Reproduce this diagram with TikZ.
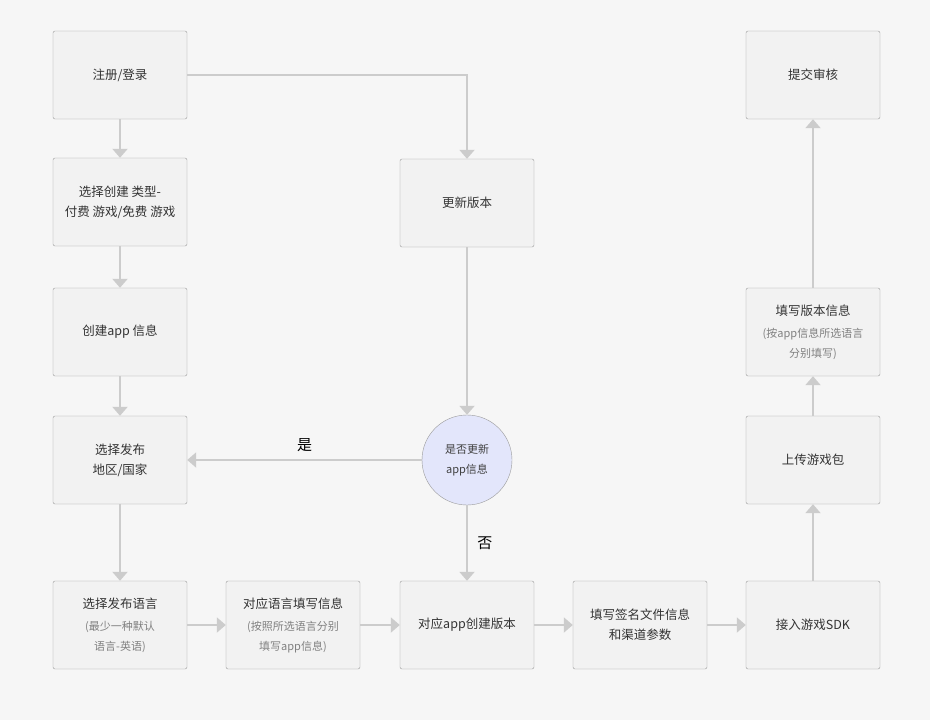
\documentclass[tikz,border=0pt]{standalone}
\usepackage{fontspec}
\setmainfont{Noto Sans CJK SC}
\usetikzlibrary{arrows.meta,positioning}
\definecolor{bgcol}{HTML}{F6F6F6}
\definecolor{boxcol}{HTML}{F2F2F2}
\definecolor{edgecol}{HTML}{9A9A9A}
\definecolor{linecol}{HTML}{CCCCCC}
\definecolor{askcol}{HTML}{E3E6FB}
\newcommand{\subnote}{\color{black!50}\fontsize{11}{18}\selectfont}
\begin{document}
\begin{tikzpicture}[x=1pt,y=-1pt]
  \tikzset{stage/.style={draw=edgecol,fill=boxcol,rounded corners=2pt,
      minimum width=134pt,minimum height=88pt,align=center,
      font=\fontsize{12.5}{20}\selectfont,text=black!80},
    flow/.style={draw=linecol,line width=2pt,
      -{Triangle[length=9pt,width=15pt]}}}

  %% background and page size
  \fill[bgcol] (0,0) rectangle (930,720);

  %% Left column
  \node[stage] (login)  at (120,75)  {注册/登录};
  \node[stage] (kind)   at (120,202) {选择创建 类型-\\付费 游戏/免费 游戏};
  \node[stage] (info)   at (120,332) {创建app 信息};
  \node[stage] (region) at (120,460) {选择发布\\地区/国家};
  \node[stage] (lang)   at (120,625) {选择发布语言\\[2pt]\subnote (最少一种默认\\\subnote 语言-英语)};

  %% Middle
  \node[stage] (filling) at (293,625) {对应语言填写信息\\[2pt]\subnote (按照所选语言分别\\\subnote 填写app信息)};
  \node[stage] (update) at (467,203) {更新版本};
  \node[circle,draw=edgecol,fill=askcol,minimum size=90pt,align=center,
    font=\fontsize{11}{20}\selectfont,text=black!75] (ask) at (467,460) {是否更新\\app信息};
  \node[stage] (build)  at (467,625) {对应app创建版本};
  \node[stage] (sign)   at (640,625) {填写签名文件信息\\和渠道参数};

  %% Right column
  \node[stage] (sdk)    at (813,625) {接入游戏SDK};
  \node[stage] (pack)   at (813,460) {上传游戏包};
  \node[stage] (ver)    at (813,332) {填写版本信息\\[2pt]\subnote (按app信息所选语言\\\subnote 分别填写)};
  \node[stage] (submit) at (813,75)  {提交审核};

  %% Connectors
  \draw[flow] (login) -- (kind);
  \draw[flow] (kind) -- (info);
  \draw[flow] (info) -- (region);
  \draw[flow] (region) -- (lang);
  \draw[flow] (lang) -- (filling);
  \draw[flow] (filling) -- (build);
  \draw[flow] (build) -- (sign);
  \draw[flow] (sign) -- (sdk);
  \draw[flow] (sdk) -- (pack);
  \draw[flow] (pack) -- (ver);
  \draw[flow] (ver) -- (submit);
  \draw[flow] (login) -| (update);
  \draw[flow] (update) -- (ask);
  \draw[flow] (ask) -- node[above=4pt,font=\fontsize{15}{18}\selectfont]{是} (region);
  \draw[flow] (ask) -- node[right=6pt,font=\fontsize{15}{18}\selectfont]{否} (build);
\end{tikzpicture}
\end{document}
